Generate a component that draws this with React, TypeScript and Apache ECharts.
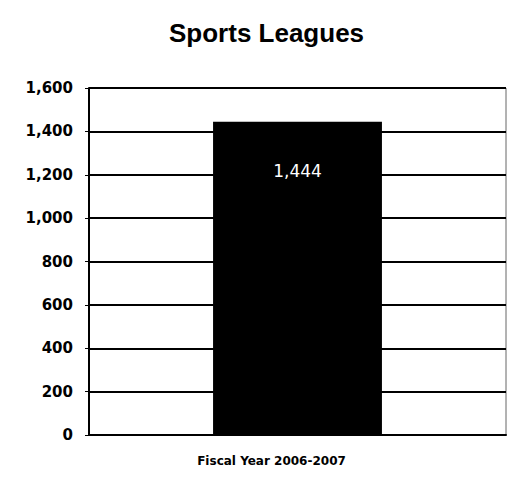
import React, { useEffect, useRef } from "react";
import * as echarts from "echarts";

const categories = ["Fiscal Year 2006-2007"];
const values = [1444];
const yTicks = { min: 0, max: 1600, interval: 200 };

export default function App() {
  const ref = useRef<HTMLDivElement>(null);
  useEffect(() => {
    const chart = echarts.init(ref.current!, null, { renderer: "svg" });
    chart.setOption({
      animation: false,
      backgroundColor: "#fff",
      title: {
        text: "Sports Leagues",
        left: 169,
        top: 20,
        padding: 0,
        textStyle: { fontFamily: "Liberation Sans", fontWeight: "bold", fontSize: 26, color: "#000" },
      },
      grid: {
        left: 89,
        right: 1,
        top: 88,
        bottom: 52,
        show: true,
        borderColor: "#666",
        borderWidth: 1,
      },
      xAxis: {
        type: "category",
        data: categories,
        axisLine: { lineStyle: { color: "#000", width: 2 } },
        axisTick: { show: false },
        axisLabel: {
          fontFamily: "DejaVu Sans",
          fontWeight: "bold",
          fontSize: 12,
          color: "#000",
          margin: 20,
          padding: [0, 52, 0, 0],
        },
      },
      yAxis: {
        type: "value",
        min: yTicks.min,
        max: yTicks.max,
        interval: yTicks.interval,
        axisLine: { show: true, lineStyle: { color: "#000", width: 2 } },
        axisTick: { show: true, length: 4, lineStyle: { color: "#000", width: 1 } },
        splitLine: { lineStyle: { color: "#000", width: 2 } },
        axisLabel: {
          fontFamily: "DejaVu Sans",
          fontWeight: "bold",
          fontSize: 15,
          color: "#000",
          margin: 16,
          formatter: (v: number) => v.toLocaleString("en-US"),
        },
      },
      series: [
        {
          type: "bar",
          data: values,
          barWidth: "40.5%",
          itemStyle: { color: "#000" },
          label: {
            show: true,
            position: "insideTop",
            distance: 41,
            color: "#fff",
            fontFamily: "DejaVu Sans",
            fontSize: 17,
            formatter: (p: any) => Number(p.value).toLocaleString("en-US"),
          },
        },
      ],
    });
    return () => chart.dispose();
  }, []);
  return <div ref={ref} style={{ width: 507, height: 487, position: "absolute", left: 0, top: 0 }} />;
}
